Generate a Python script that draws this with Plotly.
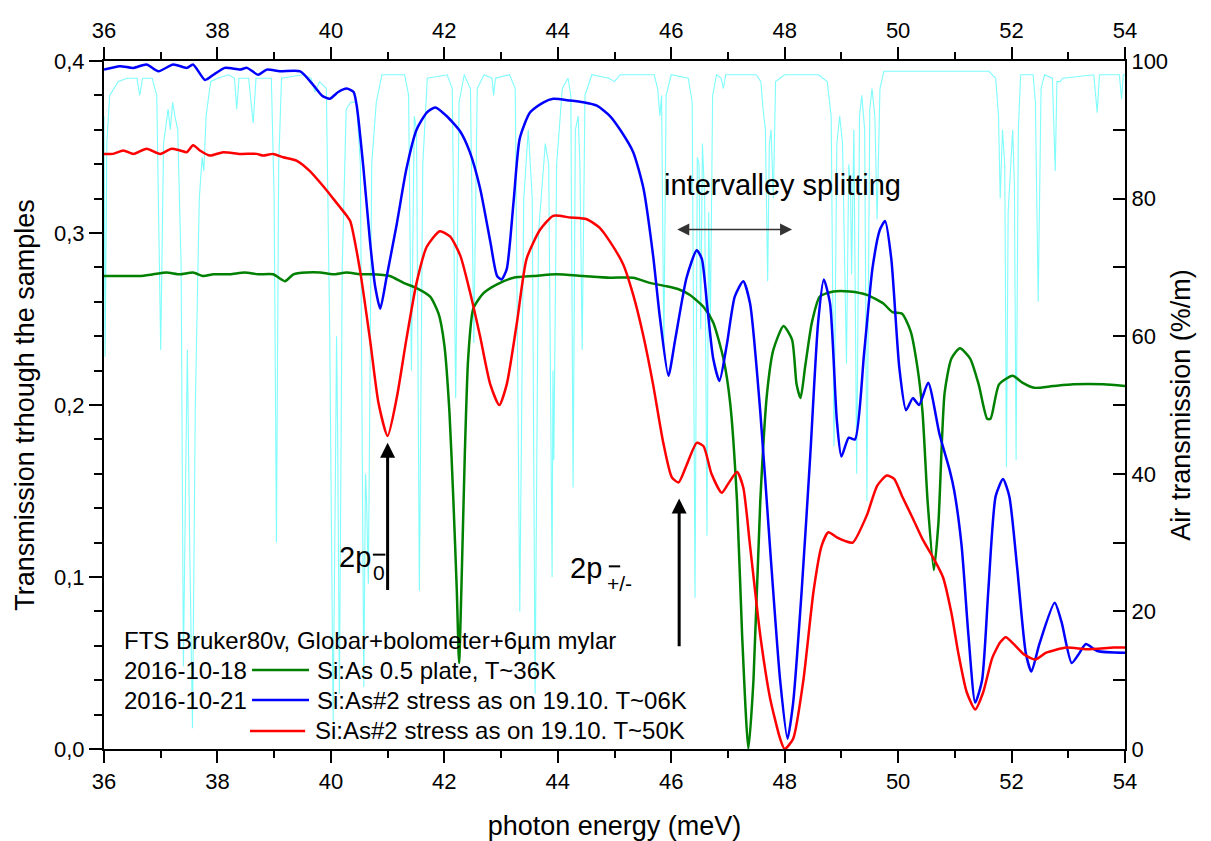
import plotly.graph_objects as go

FONT = "Liberation Sans, Arial, sans-serif"

# ---------------- data ----------------
green_x = [36.00, 36.28, 36.63, 36.87, 37.10, 37.34, 37.57, 37.75, 37.93, 38.22, 38.48, 38.72, 38.98,
           39.19, 39.34, 39.57, 39.81, 40.04, 40.28, 40.51, 40.69, 41.04, 41.28, 41.51, 41.75, 41.90,
           42.00, 42.09, 42.16, 42.22, 42.26, 42.30, 42.36, 42.42, 42.51, 42.69, 42.92, 43.22, 43.57,
           43.98, 44.45, 44.92, 45.33, 45.62, 45.92, 46.15, 46.33, 46.57, 46.74, 46.92, 47.04, 47.16,
           47.25, 47.36, 47.45, 47.57, 47.69, 47.80, 47.98, 48.13, 48.21, 48.28, 48.36, 48.48, 48.62,
           48.86, 49.15, 49.45, 49.74, 49.90, 50.07, 50.22, 50.34, 50.43, 50.52, 50.63, 50.71, 50.82,
           50.94, 51.09, 51.27, 51.42, 51.57, 51.63, 51.78, 52.02, 52.19, 52.40, 52.73, 53.09, 53.62, 54.00]
green_y = [0.275, 0.275, 0.275, 0.276, 0.277, 0.276, 0.277, 0.275, 0.276, 0.276, 0.277, 0.276, 0.276,
           0.272, 0.276, 0.277, 0.277, 0.276, 0.277, 0.276, 0.276, 0.275, 0.271, 0.268, 0.263, 0.253,
           0.235, 0.196, 0.144, 0.092, 0.050, 0.092, 0.170, 0.227, 0.256, 0.265, 0.270, 0.274, 0.275,
           0.276, 0.275, 0.274, 0.274, 0.271, 0.269, 0.267, 0.264, 0.257, 0.248, 0.227, 0.201, 0.144,
           0.066, 0.000, 0.040, 0.144, 0.207, 0.232, 0.246, 0.238, 0.212, 0.204, 0.222, 0.248, 0.263,
           0.266, 0.266, 0.264, 0.259, 0.254, 0.253, 0.243, 0.222, 0.196, 0.144, 0.104, 0.131, 0.207,
           0.227, 0.233, 0.227, 0.212, 0.192, 0.192, 0.212, 0.217, 0.213, 0.210, 0.211, 0.212, 0.212, 0.211]

blue_x = [36.00, 36.28, 36.52, 36.75, 36.96, 37.22, 37.46, 37.57, 37.78, 37.93, 38.13, 38.40, 38.52,
          38.72, 38.87, 39.10, 39.46, 39.69, 39.84, 39.98, 40.13, 40.28, 40.40, 40.46, 40.57, 40.69,
          40.78, 40.87, 40.98, 41.16, 41.33, 41.51, 41.69, 41.84, 42.04, 42.28, 42.45, 42.63, 42.81,
          42.93, 43.01, 43.10, 43.22, 43.33, 43.51, 43.75, 43.92, 44.22, 44.45, 44.69, 44.92, 45.10,
          45.33, 45.51, 45.68, 45.80, 45.95, 46.07, 46.27, 46.45, 46.54, 46.63, 46.74, 46.85, 46.98,
          47.12, 47.27, 47.39, 47.57, 47.74, 47.92, 48.05, 48.15, 48.30, 48.45, 48.59, 48.69, 48.80,
          48.92, 49.00, 49.13, 49.24, 49.40, 49.55, 49.68, 49.77, 49.88, 50.02, 50.14, 50.26, 50.37,
          50.53, 50.73, 50.91, 50.99, 51.12, 51.24, 51.36, 51.48, 51.59, 51.72, 51.85, 51.96, 52.10,
          52.25, 52.35, 52.49, 52.76, 52.88, 53.06, 53.18, 53.31, 53.51, 54.00]
blue_y = [0.395, 0.397, 0.396, 0.398, 0.394, 0.398, 0.396, 0.398, 0.389, 0.392, 0.396, 0.395, 0.396,
          0.392, 0.395, 0.394, 0.394, 0.386, 0.380, 0.378, 0.382, 0.384, 0.382, 0.373, 0.339, 0.295,
          0.269, 0.256, 0.274, 0.305, 0.337, 0.360, 0.370, 0.373, 0.368, 0.359, 0.347, 0.326, 0.295,
          0.275, 0.273, 0.279, 0.318, 0.355, 0.370, 0.376, 0.378, 0.377, 0.376, 0.374, 0.368, 0.360,
          0.347, 0.326, 0.287, 0.251, 0.217, 0.238, 0.274, 0.290, 0.285, 0.259, 0.227, 0.214, 0.235,
          0.263, 0.272, 0.259, 0.196, 0.118, 0.040, 0.006, 0.027, 0.092, 0.170, 0.248, 0.273, 0.259,
          0.191, 0.170, 0.181, 0.180, 0.230, 0.280, 0.302, 0.307, 0.285, 0.222, 0.197, 0.204, 0.200,
          0.213, 0.183, 0.162, 0.150, 0.118, 0.066, 0.027, 0.040, 0.092, 0.147, 0.157, 0.147, 0.105,
          0.056, 0.045, 0.061, 0.085, 0.074, 0.050, 0.055, 0.061, 0.057, 0.056]

red_x = [36.00, 36.16, 36.34, 36.52, 36.75, 36.99, 37.19, 37.34, 37.46, 37.57, 37.69, 37.87, 38.10,
         38.40, 38.69, 38.81, 38.98, 39.16, 39.40, 39.63, 39.87, 40.04, 40.28, 40.34, 40.51, 40.69,
         40.84, 41.00, 41.16, 41.33, 41.51, 41.69, 41.92, 42.10, 42.28, 42.45, 42.63, 42.81, 42.97,
         43.10, 43.28, 43.45, 43.69, 43.92, 44.22, 44.51, 44.74, 44.92, 45.15, 45.33, 45.51, 45.68,
         45.86, 46.01, 46.13, 46.27, 46.45, 46.57, 46.71, 46.89, 47.00, 47.16, 47.27, 47.39, 47.57,
         47.74, 47.92, 48.00, 48.15, 48.33, 48.51, 48.65, 48.77, 48.92, 49.06, 49.20, 49.45, 49.63,
         49.80, 49.93, 50.07, 50.26, 50.43, 50.64, 50.79, 50.94, 51.06, 51.21, 51.36, 51.50, 51.66,
         51.80, 51.90, 52.04, 52.22, 52.42, 52.61, 52.97, 53.33, 53.80, 54.00]
red_y = [0.346, 0.346, 0.348, 0.346, 0.349, 0.346, 0.349, 0.348, 0.347, 0.351, 0.348, 0.345, 0.347,
         0.346, 0.346, 0.345, 0.346, 0.344, 0.342, 0.336, 0.327, 0.320, 0.310, 0.307, 0.279, 0.238,
         0.201, 0.182, 0.204, 0.238, 0.271, 0.292, 0.301, 0.298, 0.287, 0.266, 0.240, 0.212, 0.200,
         0.212, 0.248, 0.285, 0.302, 0.310, 0.309, 0.308, 0.303, 0.295, 0.282, 0.264, 0.240, 0.212,
         0.178, 0.158, 0.155, 0.165, 0.178, 0.176, 0.160, 0.149, 0.154, 0.161, 0.152, 0.118, 0.066,
         0.030, 0.006, 0.000, 0.006, 0.040, 0.092, 0.118, 0.126, 0.123, 0.121, 0.120, 0.136, 0.153,
         0.159, 0.157, 0.147, 0.134, 0.122, 0.110, 0.100, 0.079, 0.056, 0.033, 0.023, 0.033, 0.053,
         0.062, 0.065, 0.061, 0.055, 0.052, 0.056, 0.059, 0.058, 0.059, 0.059]

air_x = [36.00, 36.02, 36.05, 36.10, 36.25, 36.40, 36.58, 36.63, 36.68, 36.85, 36.93, 37.00, 37.05,
         37.10, 37.13, 37.17, 37.21, 37.25, 37.30, 37.36, 37.40, 37.44, 37.47, 37.51, 37.56, 37.61,
         37.68, 37.73, 37.76, 37.80, 37.88, 38.00, 38.20, 38.30, 38.34, 38.38, 38.55, 38.63, 38.68,
         38.95, 39.00, 39.04, 39.08, 39.13, 39.50, 39.65, 39.72, 39.80, 39.92, 39.98, 40.04, 40.08,
         40.10, 40.12, 40.15, 40.20, 40.27, 40.35, 40.45, 40.52, 40.58, 40.61, 40.63, 40.66, 40.72,
         40.80, 40.90, 41.30, 41.37, 41.42, 41.47, 41.51, 41.56, 41.62, 41.70, 42.05, 42.14, 42.20,
         42.26, 42.35, 42.46, 42.52, 42.58, 42.70, 42.84, 42.87, 42.90, 43.15, 43.25, 43.33, 43.40,
         43.48, 43.55, 43.60, 43.66, 43.78, 43.84, 43.90, 43.915, 43.93, 43.98, 44.08, 44.18, 44.23,
         44.27, 44.31, 44.36, 44.39, 44.43, 44.48, 44.60, 44.90, 45.00, 45.10, 45.70, 45.76, 45.80,
         45.83, 45.87, 45.91, 46.00, 46.30, 46.37, 46.42, 46.46, 46.49, 46.52, 46.55, 46.59, 46.63,
         46.66, 46.69, 46.73, 46.80, 46.88, 46.92, 46.96, 47.50, 47.58, 47.62, 47.66, 47.70, 47.73,
         47.76, 47.80, 47.84, 48.00, 48.60, 48.75, 48.82, 48.87, 48.92, 48.97, 49.02, 49.09, 49.13,
         49.16, 49.18, 49.22, 49.27, 49.32, 49.36, 49.41, 49.45, 49.50, 49.54, 49.59, 49.63, 49.68,
         49.75, 50.50, 51.60, 51.72, 51.77, 51.80, 51.84, 51.88, 51.91, 51.94, 51.96, 52.00, 52.02,
         52.05, 52.08, 52.12, 52.16, 52.38, 52.42, 52.47, 52.52, 52.58, 52.72, 52.77, 52.80, 52.86,
         52.90, 53.45, 53.51, 53.55, 53.90, 53.94, 53.97, 54.00]
air_y = [92, 57, 88, 95, 97, 97.5, 97.5, 95, 97.5, 97.5, 95, 58, 88,
         91, 93, 90, 94, 92, 90, 70, 12, 40, 58, 30, 3, 50,
         80, 86, 84, 92, 97, 97.5, 98, 97.5, 93, 97.5, 97.5, 91, 97.5,
         97.5, 80, 30, 85, 97.5, 98, 97.5, 95.5, 97, 96, 60, 4, 40,
         60, 45, 8, 70, 93, 94, 94, 85, 9, 40, 36, 24, 85,
         94, 98, 98, 95, 55, 92, 90, 23, 85, 97.5, 98, 96, 51,
         94, 98, 96, 59, 96, 98, 97.5, 95, 97.5, 98, 96, 20, 80,
         90, 80, 8, 75, 88, 85, 25, 55, 42, 85, 96, 97.5, 95,
         38, 90, 92, 85, 58, 95, 98, 97.5, 97, 98, 98, 96, 92,
         95, 58, 95, 98, 97.5, 94, 22, 86, 85, 61, 88, 80, 31,
         78, 62, 95, 98, 97.5, 96, 98, 98, 97, 93, 90, 68, 88,
         90, 80, 97, 98, 98, 97, 92, 44, 88, 92, 88, 56, 85,
         82, 69, 90, 40, 92, 95, 90, 36, 93, 96, 92, 77, 96,
         98.5, 98.5, 98.5, 97.5, 92, 80, 90, 85, 41, 78, 81, 88, 90,
         82, 42, 90, 98, 98, 94, 65, 96, 98, 97.5, 84, 97, 97,
         97.5, 98, 92.5, 98, 98, 94.5, 98, 98]

x_ticks = [36, 38, 40, 42, 44, 46, 48, 50, 52, 54]

legend_header = "FTS Bruker80v, Globar+bolometer+6µm mylar"
legend_dates = ["2016-10-18", "2016-10-21", ""]
legend_names = ["Si:As 0.5 plate, T~36K", "Si:As#2 stress as on 19.10. T~06K", "Si:As#2 stress as on 19.10. T~50K"]
legend_colors = ["#008000", "#0000ff", "#ff0000"]

# ---------------- figure ----------------
fig = go.Figure()
fig.add_trace(go.Scatter(x=air_x, y=air_y, xaxis="x", yaxis="y", mode="lines",
                         line=dict(color="#7ffcfc", width=1.1), hoverinfo="skip", showlegend=False))
smooth = dict(width=2.5, shape="spline", smoothing=0.6)
fig.add_trace(go.Scatter(x=green_x, y=green_y, xaxis="x", yaxis="y2", mode="lines",
                         line=dict(color=legend_colors[0], **smooth), showlegend=False))
fig.add_trace(go.Scatter(x=blue_x, y=blue_y, xaxis="x", yaxis="y2", mode="lines",
                         line=dict(color=legend_colors[1], **smooth), showlegend=False))
fig.add_trace(go.Scatter(x=red_x, y=red_y, xaxis="x2", yaxis="y2", mode="lines",
                         line=dict(color=legend_colors[2], **smooth), showlegend=False))

tickfont = dict(family=FONT, size=22, color="black")
common_x = dict(range=[36, 54], tickvals=x_ticks, showline=True, linewidth=2, linecolor="black",
                ticks="outside", ticklen=12, tickwidth=2, tickcolor="black", automargin=False,
                minor=dict(dtick=1, tick0=36, ticks="outside", ticklen=7, tickwidth=2, tickcolor="black"),
                tickfont=tickfont, showgrid=False, zeroline=False)

fig.update_layout(
    width=1211, height=841,
    margin=dict(l=104, r=86, t=61, b=92, autoexpand=False),
    paper_bgcolor="white", plot_bgcolor="white",
    separators=", ",
    font=dict(family=FONT, color="black"),
    xaxis=dict(**common_x, side="bottom", anchor="y",
               title=dict(text="photon energy (meV)", font=dict(family=FONT, size=27), standoff=30)),
    xaxis2=dict(**common_x, side="top", anchor="y", overlaying="x"),
    yaxis=dict(range=[0, 100], side="right", anchor="x", showline=True, linewidth=2, linecolor="black",
               ticks="inside", ticklen=12, tickwidth=2, tickcolor="black", dtick=20, automargin=False,
               minor=dict(dtick=10, ticks="inside", ticklen=12, tickwidth=2, tickcolor="black"),
               tickfont=tickfont, showgrid=False, zeroline=False,
               title=dict(text="Air transmission (%/m)", font=dict(family=FONT, size=27), standoff=4)),
    yaxis2=dict(range=[0, 0.4], side="left", anchor="x", overlaying="y", showline=True, linewidth=2,
                linecolor="black", ticks="outside", ticklen=13, tickwidth=2, tickcolor="black",
                dtick=0.1, tickformat=".1f", automargin=False,
                minor=dict(dtick=0.02, ticks="outside", ticklen=8, tickwidth=2, tickcolor="black"),
                tickfont=tickfont, showgrid=False, zeroline=False,
                title=dict(text="Transmission trhough the samples", font=dict(family=FONT, size=27), standoff=12)),
)

# ---------------- annotations ----------------
ann = []
shapes = []
# arrows
ann.append(dict(x=41.0, y=0.178, ax=41.0, ay=0.0915, xref="x", yref="y2", axref="x", ayref="y2",
                showarrow=True, arrowhead=2, arrowsize=1, arrowwidth=3, arrowcolor="black", text=""))
ann.append(dict(x=46.14, y=0.1456, ax=46.14, ay=0.0588, xref="x", yref="y2", axref="x", ayref="y2",
                showarrow=True, arrowhead=2, arrowsize=1, arrowwidth=3, arrowcolor="black", text=""))
ann.append(dict(x=48.13, y=0.302, ax=46.08, ay=0.302, xref="x", yref="y2", axref="x", ayref="y2",
                showarrow=True, arrowhead=2, arrowside="end+start", arrowsize=1.6, arrowwidth=1.5,
                arrowcolor="#333333", text=""))
# labels
big = dict(family=FONT, size=29, color="black")
small = dict(family=FONT, size=21, color="black")
ann.append(dict(x=47.97, y=0.328, xref="x", yref="y2", text="intervalley splitting", showarrow=False, font=big))
ann.append(dict(x=40.425, y=0.1118, xref="x", yref="y2", text="2p", showarrow=False, font=big))
ann.append(dict(x=40.85, y=0.1025, xref="x", yref="y2", text="0", showarrow=False, font=small))
shapes.append(dict(type="line", xref="x", yref="y2", x0=40.74, x1=40.96, y0=0.113, y1=0.113,
                   line=dict(color="black", width=2)))
ann.append(dict(x=44.50, y=0.1054, xref="x", yref="y2", text="2p", showarrow=False, font=big))
ann.append(dict(x=45.09, y=0.0965, xref="x", yref="y2", text="+/-", showarrow=False, font=small))
shapes.append(dict(type="line", xref="x", yref="y2", x0=44.90, x1=45.10, y0=0.1062, y1=0.1062,
                   line=dict(color="black", width=2)))

# legend (text + sample lines)
lfont = dict(family=FONT, size=24, color="black")
row_y = [0.1148, 0.0712, 0.0262]
ann.append(dict(x=0.0176, y=0.157, xref="paper", yref="paper", text=legend_header, showarrow=False,
                xanchor="left", yanchor="middle", font=lfont))
for i in range(3):
    if legend_dates[i]:
        ann.append(dict(x=0.0176, y=row_y[i], xref="paper", yref="paper", text=legend_dates[i],
                        showarrow=False, xanchor="left", yanchor="middle", font=lfont))
    ann.append(dict(x=0.2067 if i < 2 else 0.2047, y=row_y[i], xref="paper", yref="paper",
                    text=legend_names[i], showarrow=False, xanchor="left", yanchor="middle", font=lfont))
    x0, x1 = (0.145, 0.2008) if i < 2 else (0.143, 0.197)
    shapes.append(dict(type="line", xref="paper", yref="paper", x0=x0, x1=x1, y0=row_y[i], y1=row_y[i],
                       line=dict(color=legend_colors[i], width=2.5)))

fig.update_layout(annotations=ann, shapes=shapes)
fig.write_html("out.html")
